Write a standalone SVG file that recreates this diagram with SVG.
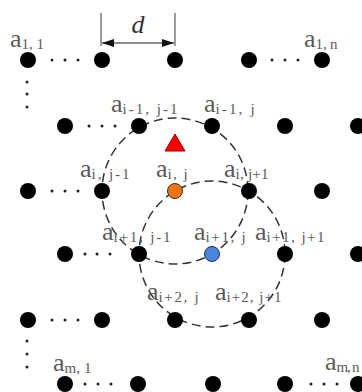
<svg xmlns="http://www.w3.org/2000/svg" width="362" height="392" viewBox="0 0 362 392">
<style>
.dot{fill:#000}
.el{fill:#222}
.lbl{font-family:"Liberation Serif","Times New Roman",serif;fill:#5a5a5a;font-size:26px}
.sub{font-size:15px}
.dash{fill:none;stroke:#333;stroke-width:1.5;stroke-dasharray:9 5}
.dim{stroke:#666;stroke-width:1.3;fill:none}
</style>
<defs>
<marker id="ah" viewBox="0 0 12 8" refX="12" refY="4" markerWidth="12" markerHeight="8" markerUnits="userSpaceOnUse" orient="auto-start-reverse">
<path d="M0,0 L12,4 L0,8 Z" fill="#111"/>
</marker>
</defs>
<rect width="362" height="392" fill="#fff"/>
<g id="connectors">
<circle class="dash" cx="175" cy="191" r="73"/>
<circle class="dash" cx="212" cy="254" r="73"/>
<line class="dim" x1="101" y1="13" x2="101" y2="46"/>
<line class="dim" x1="175" y1="13" x2="175" y2="46"/>
<line class="dim" x1="102" y1="43" x2="174" y2="43" marker-start="url(#ah)" marker-end="url(#ah)"/>
<text x="138" y="33" text-anchor="middle" style="font-family:'Liberation Serif',serif;font-style:italic;font-size:26px;fill:#333">d</text>
</g>
<g id="ellipses">
<circle class="el" cx="52" cy="60" r="1.5"/><circle class="el" cx="65" cy="60" r="1.5"/><circle class="el" cx="78" cy="60" r="1.5"/>
<circle class="el" cx="272" cy="60" r="1.5"/><circle class="el" cx="285" cy="60" r="1.5"/><circle class="el" cx="298" cy="60" r="1.5"/>
<circle class="el" cx="27" cy="82" r="1.5"/><circle class="el" cx="27" cy="94" r="1.5"/><circle class="el" cx="27" cy="107" r="1.5"/>
<circle class="el" cx="89" cy="126" r="1.5"/><circle class="el" cx="102" cy="126" r="1.5"/><circle class="el" cx="115" cy="126" r="1.5"/>
<circle class="el" cx="52" cy="191" r="1.5"/><circle class="el" cx="65" cy="191" r="1.5"/><circle class="el" cx="78" cy="191" r="1.5"/>
<circle class="el" cx="85" cy="254" r="1.5"/><circle class="el" cx="97" cy="254" r="1.5"/><circle class="el" cx="110" cy="254" r="1.5"/>
<circle class="el" cx="52" cy="320" r="1.5"/><circle class="el" cx="65" cy="320" r="1.5"/><circle class="el" cx="78" cy="320" r="1.5"/>
<circle class="el" cx="27" cy="341" r="1.5"/><circle class="el" cx="27" cy="354" r="1.5"/><circle class="el" cx="27" cy="367" r="1.5"/>
<circle class="el" cx="85" cy="384" r="1.5"/><circle class="el" cx="98" cy="384" r="1.5"/><circle class="el" cx="111" cy="384" r="1.5"/>
<circle class="el" cx="311" cy="384" r="1.5"/><circle class="el" cx="324" cy="384" r="1.5"/><circle class="el" cx="337" cy="384" r="1.5"/>
</g>
<g id="nodes">
<g id="r1">
<circle id="n1_1" class="dot" cx="28" cy="60" r="8"/><circle class="dot" cx="102" cy="60" r="8"/><circle class="dot" cx="175" cy="60" r="8"/><circle class="dot" cx="249" cy="60" r="8"/><circle id="n1_n" class="dot" cx="322" cy="60" r="8"/>
</g>
<g id="r2">
<circle class="dot" cx="65" cy="126" r="8"/><circle id="nim1jm1" class="dot" cx="139" cy="126" r="8"/><circle id="nim1j" class="dot" cx="212" cy="126" r="8"/><circle class="dot" cx="285" cy="126" r="8"/><circle class="dot" cx="358" cy="126" r="8"/>
</g>
<g id="r3">
<circle class="dot" cx="28" cy="191" r="8"/><circle id="nijm1" class="dot" cx="102" cy="191" r="8"/><circle id="nijp1" class="dot" cx="249" cy="191" r="8"/><circle class="dot" cx="322" cy="191" r="8"/>
</g>
<g id="r4">
<circle class="dot" cx="65" cy="254" r="8"/><circle id="nip1jm1" class="dot" cx="139" cy="254" r="8"/><circle id="nip1jp1" class="dot" cx="285" cy="254" r="8"/><circle class="dot" cx="358" cy="254" r="8"/>
</g>
<g id="r5">
<circle class="dot" cx="28" cy="320" r="8"/><circle class="dot" cx="102" cy="320" r="8"/><circle id="nip2j" class="dot" cx="175" cy="320" r="8"/><circle id="nip2jp1" class="dot" cx="249" cy="320" r="8"/><circle class="dot" cx="322" cy="320" r="8"/>
</g>
<g id="r6">
<circle id="nm_1" class="dot" cx="65" cy="384" r="8"/><circle class="dot" cx="138" cy="384" r="8"/><circle class="dot" cx="213" cy="384" r="8"/><circle class="dot" cx="285" cy="384" r="8"/><circle id="nm_n" class="dot" cx="358" cy="384" r="8"/>
</g>
<g id="triangle"><polygon points="175,134 185,151 165,151" fill="#f00" stroke="#900" stroke-width="1"/></g>
<g id="nij"><circle cx="175" cy="191" r="7.5" fill="#e8751a" stroke="#5a2a00" stroke-width="1"/></g>
<g id="nip1j"><circle cx="212" cy="254" r="7.5" fill="#4a86e0" stroke="#1a3050" stroke-width="1"/></g>
</g>
<g id="labels">
<text class="lbl" x="10" y="47">a<tspan class="sub" dy="2">1, 1</tspan></text>
<text class="lbl" x="304" y="47">a<tspan class="sub" dy="2" textLength="22">1, n</tspan></text>
<text class="lbl" x="111" y="112">a<tspan class="sub" dy="2" textLength="55">i-1, j-1</tspan></text>
<text class="lbl" x="204" y="112">a<tspan class="sub" dy="2" textLength="39">i-1, j</tspan></text>
<text class="lbl" x="80" y="177">a<tspan class="sub" dy="2" textLength="38">i, j-1</tspan></text>
<text class="lbl" x="156" y="177">a<tspan class="sub" dy="2" textLength="20">i, j</tspan></text>
<text class="lbl" x="224" y="177">a<tspan class="sub" dy="2" textLength="33">i, j+1</tspan></text>
<text class="lbl" x="102" y="240">a<tspan class="sub" dy="2" textLength="57">i+1, j-1</tspan></text>
<text class="lbl" x="194" y="240">a<tspan class="sub" dy="2" textLength="40">i+1, j</tspan></text>
<text class="lbl" x="255" y="240">a<tspan class="sub" dy="2" textLength="58">i+1, j+1</tspan></text>
<text class="lbl" x="147" y="300">a<tspan class="sub" dy="2" textLength="40">i+2, j</tspan></text>
<text class="lbl" x="215" y="300">a<tspan class="sub" dy="2" textLength="55">i+2, j+1</tspan></text>
<text class="lbl" x="53" y="371">a<tspan class="sub" dy="2" textLength="27">m, 1</tspan></text>
<text class="lbl" x="325" y="370">a<tspan class="sub" dy="2" textLength="23">m, n</tspan></text>
</g>
</svg>
